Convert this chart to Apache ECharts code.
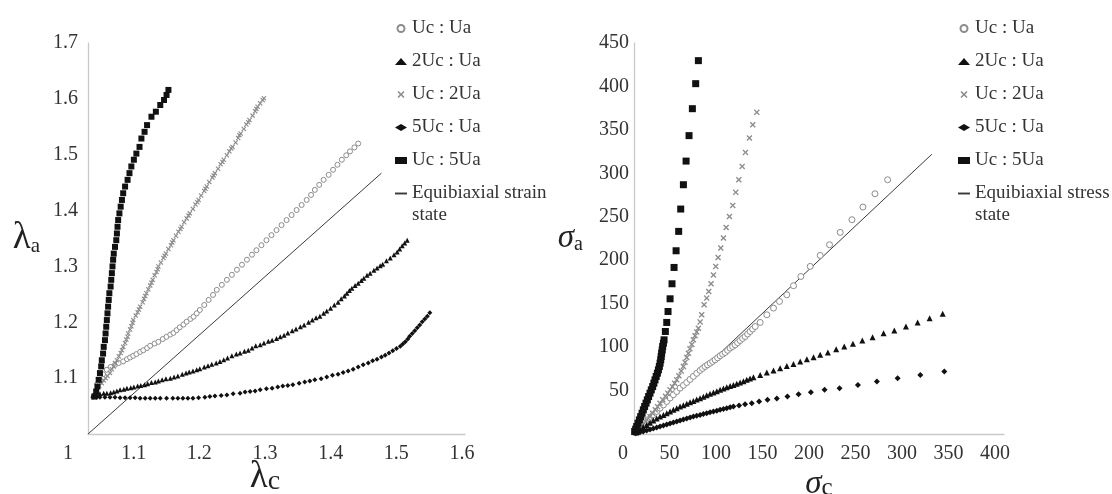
<!DOCTYPE html>
<html><head><meta charset="utf-8">
<script src="https://cdn.jsdelivr.net/npm/echarts@6/dist/echarts.min.js"></script>
<style>html,body{margin:0;padding:0;background:#fff}#c{width:1112px;height:494px}</style>
</head><body><div id="c"></div>
<script>
// ---------- tick labels ----------
const lamXTicks = [1, 1.1, 1.2, 1.3, 1.4, 1.5, 1.6];
const lamYTicks = [1.1, 1.2, 1.3, 1.4, 1.5, 1.6, 1.7];
const sigXTicks = [0, 50, 100, 150, 200, 250, 300, 350, 400];
const sigYTicks = [50, 100, 150, 200, 250, 300, 350, 400, 450];

// ---------- legend names ----------
const names = ['Uc : Ua', '2Uc : Ua', 'Uc : 2Ua', '5Uc : Ua', 'Uc : 5Ua'];
const lamLineName = 'Equibiaxial strain';
const sigLineName = 'Equibiaxial stress';

// ---------- stretch ratios (left plot) ----------
const lamUcUa = [[1.015,1.090],[1.019,1.097],[1.024,1.107],[1.030,1.115],[1.036,1.120],[1.043,1.124],[1.049,1.127],[1.056,1.130],[1.062,1.134],[1.067,1.137],[1.072,1.140],[1.077,1.143],[1.083,1.147],[1.088,1.150],[1.094,1.154],[1.099,1.158],[1.106,1.162],[1.112,1.165],[1.119,1.170],[1.125,1.174],[1.131,1.178],[1.136,1.181],[1.141,1.186],[1.146,1.191],[1.152,1.196],[1.157,1.201],[1.163,1.206],[1.168,1.210],[1.173,1.216],[1.178,1.222],[1.185,1.231],[1.192,1.240],[1.199,1.249],[1.205,1.258],[1.213,1.267],[1.221,1.276],[1.229,1.285],[1.237,1.294],[1.245,1.303],[1.253,1.312],[1.261,1.321],[1.268,1.329],[1.276,1.338],[1.284,1.347],[1.292,1.356],[1.300,1.365],[1.308,1.374],[1.316,1.383],[1.324,1.392],[1.332,1.401],[1.340,1.410],[1.348,1.419],[1.355,1.428],[1.361,1.437],[1.368,1.446],[1.375,1.455],[1.383,1.464],[1.390,1.473],[1.397,1.482],[1.404,1.491],[1.411,1.499],[1.417,1.506],[1.424,1.513],[1.430,1.520]];
const lam2UcUa = [[1.008,1.070],[1.014,1.071],[1.019,1.072],[1.025,1.073],[1.030,1.073],[1.036,1.074],[1.041,1.075],[1.046,1.077],[1.051,1.079],[1.057,1.080],[1.062,1.082],[1.068,1.083],[1.073,1.084],[1.079,1.086],[1.084,1.087],[1.090,1.088],[1.095,1.090],[1.101,1.092],[1.107,1.093],[1.112,1.095],[1.118,1.097],[1.124,1.099],[1.131,1.100],[1.137,1.102],[1.143,1.104],[1.150,1.107],[1.156,1.109],[1.161,1.111],[1.167,1.113],[1.173,1.115],[1.178,1.117],[1.185,1.120],[1.191,1.122],[1.197,1.125],[1.204,1.127],[1.210,1.130],[1.216,1.133],[1.222,1.136],[1.229,1.140],[1.236,1.143],[1.242,1.145],[1.249,1.148],[1.255,1.150],[1.261,1.154],[1.267,1.158],[1.274,1.160],[1.280,1.163],[1.287,1.166],[1.293,1.168],[1.300,1.171],[1.306,1.174],[1.312,1.177],[1.318,1.181],[1.325,1.185],[1.331,1.188],[1.338,1.192],[1.344,1.195],[1.351,1.200],[1.357,1.204],[1.363,1.208],[1.369,1.211],[1.375,1.216],[1.380,1.220],[1.386,1.225],[1.392,1.231],[1.398,1.236],[1.403,1.242],[1.408,1.247],[1.412,1.252],[1.416,1.257],[1.420,1.261],[1.425,1.266],[1.430,1.270],[1.435,1.275],[1.439,1.279],[1.444,1.284],[1.449,1.288],[1.455,1.293],[1.460,1.297],[1.465,1.301],[1.469,1.304],[1.475,1.310],[1.481,1.315],[1.487,1.321],[1.492,1.326],[1.496,1.331],[1.500,1.337],[1.504,1.342],[1.508,1.347]];
const lamUc2Ua = [[1.018,1.086],[1.022,1.091],[1.025,1.096],[1.028,1.100],[1.031,1.104],[1.035,1.109],[1.038,1.116],[1.041,1.121],[1.043,1.127],[1.046,1.132],[1.049,1.139],[1.052,1.145],[1.054,1.150],[1.056,1.156],[1.059,1.163],[1.061,1.169],[1.063,1.174],[1.064,1.180],[1.067,1.187],[1.069,1.193],[1.071,1.199],[1.072,1.204],[1.076,1.212],[1.079,1.218],[1.081,1.223],[1.083,1.228],[1.087,1.236],[1.089,1.242],[1.091,1.247],[1.093,1.252],[1.096,1.259],[1.099,1.266],[1.101,1.271],[1.103,1.276],[1.106,1.284],[1.109,1.290],[1.111,1.295],[1.112,1.300],[1.116,1.307],[1.120,1.315],[1.122,1.319],[1.124,1.323],[1.128,1.331],[1.132,1.338],[1.134,1.343],[1.136,1.347],[1.140,1.355],[1.144,1.362],[1.147,1.367],[1.149,1.371],[1.153,1.379],[1.157,1.386],[1.160,1.391],[1.162,1.395],[1.167,1.403],[1.171,1.411],[1.174,1.415],[1.176,1.419],[1.180,1.427],[1.185,1.435],[1.187,1.439],[1.189,1.443],[1.193,1.451],[1.198,1.459],[1.200,1.463],[1.202,1.467],[1.207,1.475],[1.211,1.483],[1.214,1.487],[1.216,1.491],[1.221,1.499],[1.225,1.506],[1.228,1.511],[1.230,1.514],[1.235,1.522],[1.239,1.530],[1.241,1.535],[1.243,1.538],[1.248,1.546],[1.252,1.554],[1.255,1.558],[1.257,1.562],[1.262,1.570],[1.266,1.578],[1.268,1.582],[1.270,1.586],[1.274,1.592],[1.278,1.598],[1.280,1.601]];
const lam5UcUa = [[1.008,1.066],[1.014,1.066],[1.019,1.066],[1.027,1.066],[1.035,1.066],[1.043,1.066],[1.051,1.065],[1.059,1.065],[1.067,1.065],[1.075,1.065],[1.083,1.064],[1.091,1.064],[1.099,1.064],[1.107,1.064],[1.115,1.064],[1.125,1.064],[1.135,1.064],[1.143,1.064],[1.151,1.064],[1.159,1.064],[1.167,1.064],[1.176,1.065],[1.186,1.066],[1.194,1.067],[1.202,1.068],[1.212,1.069],[1.221,1.070],[1.231,1.072],[1.242,1.073],[1.250,1.075],[1.258,1.076],[1.266,1.077],[1.274,1.079],[1.284,1.081],[1.293,1.082],[1.302,1.084],[1.310,1.086],[1.318,1.087],[1.326,1.088],[1.336,1.091],[1.345,1.093],[1.353,1.095],[1.361,1.097],[1.371,1.099],[1.380,1.102],[1.389,1.105],[1.398,1.107],[1.406,1.110],[1.414,1.113],[1.422,1.116],[1.430,1.120],[1.438,1.124],[1.446,1.127],[1.453,1.131],[1.460,1.134],[1.467,1.138],[1.473,1.141],[1.479,1.145],[1.485,1.149],[1.491,1.153],[1.497,1.157],[1.501,1.161],[1.505,1.165],[1.509,1.170],[1.512,1.175],[1.516,1.180],[1.520,1.185],[1.524,1.190],[1.528,1.195],[1.532,1.201],[1.536,1.206],[1.540,1.211],[1.544,1.217]];
const lamUc5Ua = [[1.010,1.067],[1.013,1.076],[1.015,1.085],[1.017,1.097],[1.019,1.109],[1.021,1.121],[1.022,1.132],[1.024,1.144],[1.025,1.156],[1.027,1.168],[1.028,1.180],[1.029,1.192],[1.030,1.204],[1.031,1.216],[1.032,1.228],[1.033,1.240],[1.034,1.252],[1.036,1.264],[1.037,1.276],[1.038,1.288],[1.039,1.300],[1.040,1.312],[1.041,1.323],[1.043,1.335],[1.045,1.347],[1.046,1.359],[1.047,1.371],[1.048,1.383],[1.050,1.395],[1.052,1.407],[1.054,1.419],[1.056,1.431],[1.059,1.443],[1.063,1.455],[1.066,1.467],[1.069,1.479],[1.073,1.491],[1.077,1.502],[1.082,1.514],[1.085,1.529],[1.090,1.541],[1.094,1.553],[1.101,1.568],[1.108,1.577],[1.115,1.589],[1.121,1.598],[1.125,1.607],[1.128,1.616]];
const lamEqui = [[1.0,1.0],[1.467,1.467]];

// ---------- stresses (right plot) ----------
const sigUcUa = [[1.5,1.5],[4.7,4.7],[8.0,8.2],[11.9,12.4],[15.5,16.5],[18.5,19.5],[20.9,22.2],[24.5,26.0],[28.1,29.8],[31.8,33.5],[35.4,37.5],[39.0,41.5],[42.6,45.2],[46.2,49.0],[49.8,52.8],[53.4,56.0],[57.0,59.3],[60.6,62.8],[64.2,66.3],[67.8,69.8],[71.4,73.2],[74.1,75.5],[76.8,77.7],[79.5,79.6],[82.3,81.5],[85.0,83.5],[87.7,85.4],[90.4,87.7],[93.1,90.0],[95.8,91.9],[98.5,93.8],[101.2,96.3],[103.9,98.8],[106.6,100.7],[109.3,102.6],[112.0,105.1],[114.7,107.6],[117.4,110.0],[120.1,112.2],[122.8,115.1],[125.5,118.0],[128.2,120.8],[131.0,123.7],[136.4,128.4],[143.6,137.2],[150.8,144.9],[157.3,152.6],[165.2,160.2],[172.4,170.6],[180.4,181.3],[190.5,192.9],[201.3,205.5],[211.4,217.8],[222.9,232.0],[235.6,246.6],[247.5,261.2],[260.5,276.5],[274.2,292.6]];
const sig2UcUa = [[2.5,2.0],[6.5,5.5],[10.0,8.0],[13.7,10.5],[17.3,13.0],[20.9,15.5],[24.5,17.8],[28.1,20.1],[31.8,22.0],[35.4,23.9],[39.0,25.9],[42.6,27.8],[46.2,29.7],[49.8,31.6],[53.4,33.2],[57.0,34.7],[60.6,36.4],[64.2,38.1],[67.8,39.6],[71.4,41.2],[75.0,42.9],[78.6,44.6],[82.2,46.2],[85.9,47.7],[89.5,49.3],[93.1,50.8],[96.7,52.4],[100.3,53.9],[103.9,55.2],[107.5,56.5],[111.1,57.9],[114.7,59.2],[118.3,60.8],[121.9,62.3],[125.5,63.9],[129.1,65.4],[136.4,68.0],[143.6,70.7],[150.8,73.0],[158.0,75.7],[165.2,78.4],[172.4,80.7],[179.7,83.4],[186.9,86.1],[194.1,88.4],[201.3,91.1],[209.6,93.8],[218.6,97.6],[227.3,100.7],[236.7,103.8],[246.8,107.6],[257.9,111.4],[269.8,116.0],[281.4,119.1],[294.0,123.7],[306.6,128.3],[319.6,133.3],[333.7,138.3]];
const sigUc2Ua = [[2.0,2.5],[4.5,5.0],[8.3,8.6],[11.0,12.5],[14.0,16.3],[17.3,20.1],[20.0,24.0],[23.0,28.0],[25.5,31.5],[28.1,35.4],[31.0,39.5],[34.0,43.5],[36.5,47.0],[39.0,50.8],[41.5,54.5],[44.0,58.5],[46.2,62.3],[48.5,67.0],[51.0,72.5],[53.4,77.7],[55.2,82.5],[57.0,88.0],[58.8,93.0],[60.5,98.0],[62.5,103.0],[64.2,108.4],[66.0,113.0],[67.8,117.5],[69.6,121.8],[71.5,129.0],[73.2,137.2],[75.8,148.7],[78.6,156.4],[80.8,164.0],[83.3,172.9],[85.9,182.9],[88.4,192.9],[90.9,203.2],[93.8,214.0],[96.7,225.5],[99.6,237.7],[103.2,250.4],[106.8,263.1],[110.0,278.1],[113.3,292.7],[116.9,308.0],[120.5,324.1],[124.8,340.6],[128.4,356.0],[132.8,370.2]];
const sig5UcUa = [[2.0,0.8],[4.5,1.5],[6.5,2.0],[10.0,3.0],[13.7,4.0],[17.3,5.2],[20.9,6.3],[24.5,7.5],[28.1,8.6],[31.8,9.8],[35.4,10.9],[39.0,12.0],[42.6,13.2],[46.2,14.4],[49.8,15.5],[53.4,16.7],[57.0,17.8],[60.6,19.0],[64.2,20.1],[67.8,21.0],[71.4,22.0],[75.0,23.0],[78.6,23.9],[82.2,24.9],[85.9,25.8],[89.5,26.8],[93.1,27.8],[96.7,28.8],[100.3,29.7],[103.9,30.7],[107.5,31.6],[113.6,32.7],[120.1,34.3],[127.3,35.4],[135.3,37.4],[144.3,39.3],[154.4,40.8],[165.9,43.1],[177.9,45.8],[191.2,48.1],[206.0,50.8],[222.2,52.7],[242.1,56.5],[262.6,60.4],[285.0,64.2],[309.5,68.0],[335.5,71.9]];
const sigUc5Ua = [[0.7,2.8],[1.8,5.5],[2.9,8.6],[4.3,12.4],[5.8,16.2],[7.2,20.0],[8.7,23.9],[10.1,27.8],[11.5,31.6],[13.0,35.5],[14.4,39.3],[15.8,43.1],[17.3,47.0],[18.7,50.8],[20.2,54.6],[21.5,58.5],[22.7,62.3],[24.0,66.2],[25.3,70.0],[26.4,73.8],[27.4,77.7],[28.2,81.5],[28.9,85.4],[29.4,89.2],[29.9,93.0],[30.5,96.8],[31.0,100.7],[31.8,104.5],[32.5,108.4],[33.9,118.0],[35.4,128.4],[36.8,141.0],[39.0,155.6],[41.1,172.9],[43.3,191.7],[45.5,210.9],[48.3,233.2],[50.5,258.9],[53.4,286.9],[56.3,314.1],[59.5,343.4],[63.1,374.4],[66.7,403.2],[69.6,429.7]];
const sigEqui = [[0,0],[322,322]];

// ---------- styling ----------
const SERIF = 'Liberation Serif, Times New Roman, serif';
const AXIS_COLOR = '#c9c9c9';
const LABEL_COLOR = '#333';
const CROSS = 'path://M0,1.6L1.6,0L5,3.4L8.4,0L10,1.6L6.6,5L10,8.4L8.4,10L5,6.6L1.6,10L0,8.4L3.4,5Z';
const DASH = 'path://M0,0H10V1.6H0Z';

const chart = echarts.init(document.getElementById('c'), null, {renderer: 'canvas'});

function nameRich(mainSize, subSize) {
  return {
    l: {fontFamily: SERIF, fontSize: mainSize, color: '#222'},
    li: {fontFamily: SERIF, fontSize: mainSize, fontStyle: 'italic', color: '#222'},
    s: {fontFamily: SERIF, fontSize: subSize, color: '#222', verticalAlign: 'bottom'}
  };
}
const tickLabel = {fontFamily: SERIF, fontSize: 20, color: LABEL_COLOR};

function dataX(gi, min, max, name, gap, main, sub) {
  return {gridIndex: gi, type: 'value', min, max,
    axisLine: {show: true, onZero: false, lineStyle: {color: AXIS_COLOR, width: 1.3}},
    axisTick: {show: false}, axisLabel: {show: false}, splitLine: {show: false},
    name: name || '', nameLocation: 'middle', nameGap: gap || 0, nameMoveOverlap: false,
    nameTextStyle: {rich: nameRich(main || 34, sub || 24)}};
}
function labelX(gi, min, max, ticks, name, gap, main, sub) {
  return {gridIndex: gi, type: 'value', min, max,
    axisLine: {show: false}, axisTick: {show: false}, splitLine: {show: false},
    axisLabel: Object.assign({margin: 10, customValues: ticks}, tickLabel),
    name: name || '', nameLocation: 'middle', nameGap: gap || 0, nameMoveOverlap: false,
    nameTextStyle: {rich: nameRich(main || 34, sub || 24)}};
}
function dataY(gi, min, max, ticks, name, gap, margin, main, sub) {
  return {gridIndex: gi, type: 'value', min, max,
    axisLine: {show: true, onZero: false, lineStyle: {color: AXIS_COLOR, width: 1.3}},
    axisTick: {show: false}, splitLine: {show: false},
    axisLabel: Object.assign({margin: margin, customValues: ticks}, tickLabel),
    name, nameLocation: 'middle', nameRotate: 0, nameGap: gap, nameMoveOverlap: false,
    nameTextStyle: {rich: nameRich(main, sub)}};
}
function hiddenY(gi, min, max) {
  return {gridIndex: gi, type: 'value', min, max, show: false};
}

function sc(name, data, xi, yi, symbol, size, style) {
  return {type: 'scatter', name, data, xAxisIndex: xi, yAxisIndex: yi,
    symbol, symbolSize: size, itemStyle: Object.assign({opacity: 1}, style),
    emphasis: {disabled: true}, silent: true};
}
function ln(name, data, xi, yi) {
  return {type: 'line', name, data, xAxisIndex: xi, yAxisIndex: yi,
    symbol: 'none', lineStyle: {color: '#3a3a3a', width: 1}, itemStyle: {color: '#3a3a3a'},
    emphasis: {disabled: true}, silent: true, z: 1};
}

const BLACK = {color: '#111'};
const GRAYX = {color: '#8c8c8c'};
const CIRC = {color: '#fff', borderColor: '#8c8c8c', borderWidth: 1};

const legendBase = {orient: 'vertical', itemWidth: 12, itemHeight: 7, itemGap: 10,
  selectedMode: false, textStyle: {fontFamily: SERIF, fontSize: 19, lineHeight: 23, color: LABEL_COLOR}};
function legendData(lineName) {
  return names.concat([{name: lineName, icon: DASH, itemStyle: {color: '#3a3a3a'}}]);
}

const gridBase = {outerBoundsMode: 'none', containLabel: false};

chart.setOption({
  animation: false,
  backgroundColor: '#fff',
  grid: [
    Object.assign({left: 88, top: 43, width: 377, height: 391}, gridBase),
    Object.assign({left: 68, top: 43, width: 394, height: 391}, gridBase),
    Object.assign({left: 634, top: 43, width: 370, height: 391}, gridBase),
    Object.assign({left: 623, top: 43, width: 372, height: 391}, gridBase)
  ],
  xAxis: [
    dataX(0, 1, 1.6),
    labelX(1, 1, 1.6, lamXTicks, '{l|λ}{s|c}', 25, 37, 28),
    dataX(2, 0, 400, '{li|σ}{s|c}', 34, 33, 25),
    labelX(3, 0, 400, sigXTicks)
  ],
  yAxis: [
    dataY(0, 1, 1.7, lamYTicks, '{l|λ}{s|a}', 48, 10, 37, 21),
    hiddenY(1, 1, 1.7),
    dataY(2, 0, 450, sigYTicks, '{li|σ}{s|a}', 51, 5, 33, 20),
    hiddenY(3, 0, 450)
  ],
  legend: [
    Object.assign({left: 390, top: 12, data: legendData(lamLineName)}, legendBase),
    Object.assign({left: 953, top: 12, data: legendData(sigLineName)}, legendBase)
  ],
  graphic: [
    {type: 'text', x: 412, y: 215, silent: true,
     style: {text: 'state', fontFamily: SERIF, fontSize: 19, fill: LABEL_COLOR, verticalAlign: 'middle'}},
    {type: 'text', x: 975, y: 215, silent: true,
     style: {text: 'state', fontFamily: SERIF, fontSize: 19, fill: LABEL_COLOR, verticalAlign: 'middle'}}
  ],
  series: [
    ln(lamLineName, lamEqui, 0, 0),
    sc(names[0], lamUcUa, 0, 0, 'circle', 5, CIRC),
    sc(names[2], lamUc2Ua, 0, 0, CROSS, 5, GRAYX),
    sc(names[1], lam2UcUa, 0, 0, 'triangle', 5, BLACK),
    sc(names[3], lam5UcUa, 0, 0, 'diamond', 5, BLACK),
    sc(names[4], lamUc5Ua, 0, 0, 'rect', 6, BLACK),

    ln(sigLineName, sigEqui, 2, 2),
    sc(names[0], sigUcUa, 2, 2, 'circle', 6, CIRC),
    sc(names[2], sigUc2Ua, 2, 2, CROSS, 6, GRAYX),
    sc(names[1], sig2UcUa, 2, 2, 'triangle', 6, BLACK),
    sc(names[3], sig5UcUa, 2, 2, 'diamond', 6, BLACK),
    sc(names[4], sigUc5Ua, 2, 2, 'rect', 7, BLACK)
  ]
});
</script>
</body></html>
